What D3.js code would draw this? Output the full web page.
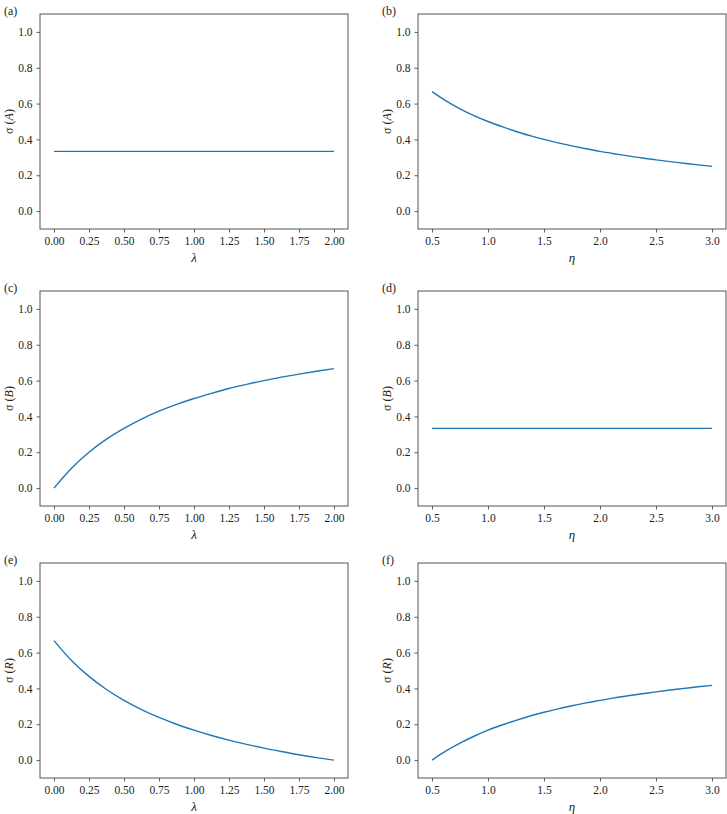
<!DOCTYPE html>
<html>
<head>
<meta charset="utf-8">
<script src="https://cdn.jsdelivr.net/npm/d3@7"></script>
<style>
	body{margin:0;background:#fff;}
</style>
</head>
<body>
<div id="chart"></div>
<script>
// values
var lambdaVals=[0,0.125,0.25,0.375,0.5,0.625,0.75,0.875,1.0,1.125,1.25,1.375,1.5,1.625,1.75,1.875,2.0];
var etaVals=[0.5,0.625,0.75,0.875,1.0,1.125,1.25,1.375,1.5,1.625,1.75,1.875,2.0,2.125,2.25,2.375,2.5,2.625,2.75,2.875,3.0];

var sigmaA_lambda=[0.333,0.333,0.333,0.333,0.333,0.333,0.333,0.333,0.333,0.333,0.333,0.333,0.333,0.333,0.333,0.333,0.333];
var sigmaA_eta=[0.667,0.615,0.571,0.533,0.5,0.471,0.444,0.421,0.4,0.381,0.364,0.348,0.333,0.32,0.308,0.296,0.286,0.276,0.267,0.258,0.25];
var sigmaB_lambda=[0,0.111,0.2,0.273,0.333,0.385,0.429,0.467,0.5,0.529,0.556,0.579,0.6,0.619,0.636,0.652,0.667];
var sigmaB_eta=[0.333,0.333,0.333,0.333,0.333,0.333,0.333,0.333,0.333,0.333,0.333,0.333,0.333,0.333,0.333,0.333,0.333,0.333,0.333,0.333,0.333];
var sigmaR_lambda=[0.667,0.556,0.467,0.394,0.333,0.282,0.238,0.2,0.167,0.137,0.111,0.088,0.067,0.048,0.03,0.014,0];
var sigmaR_eta=[0,0.051,0.095,0.133,0.167,0.196,0.222,0.246,0.267,0.286,0.303,0.319,0.333,0.347,0.359,0.37,0.381,0.391,0.4,0.409,0.417];

var lambdaTicks=[0,0.25,0.5,0.75,1.0,1.25,1.5,1.75,2.0];
var etaTicks=[0.5,1.0,1.5,2.0,2.5,3.0];
var yTicks=[0,0.2,0.4,0.6,0.8,1.0];

var panels=[
	{tag:"(a)",xs:lambdaVals,ys:sigmaA_lambda,xDom:[-0.1,2.1],xt:lambdaTicks,fmt:".2f",xl:"λ",yl:"A",col:0,row:0},
	{tag:"(b)",xs:etaVals,ys:sigmaA_eta,xDom:[0.375,3.125],xt:etaTicks,fmt:".1f",xl:"η",yl:"A",col:1,row:0},
	{tag:"(c)",xs:lambdaVals,ys:sigmaB_lambda,xDom:[-0.1,2.1],xt:lambdaTicks,fmt:".2f",xl:"λ",yl:"B",col:0,row:1},
	{tag:"(d)",xs:etaVals,ys:sigmaB_eta,xDom:[0.375,3.125],xt:etaTicks,fmt:".1f",xl:"η",yl:"B",col:1,row:1},
	{tag:"(e)",xs:lambdaVals,ys:sigmaR_lambda,xDom:[-0.1,2.1],xt:lambdaTicks,fmt:".2f",xl:"λ",yl:"R",col:0,row:2},
	{tag:"(f)",xs:etaVals,ys:sigmaR_eta,xDom:[0.375,3.125],xt:etaTicks,fmt:".1f",xl:"η",yl:"R",col:1,row:2}
];

var W=727,H=814;
var colLeft=[40,418], rowTop=[14,291,563];
var pW=308, pH=215;
var lineColor="#1f77b4", spine="#555";
var serif="Liberation Serif";

var svg=d3.select("#chart").append("svg").attr("width",W).attr("height",H);

panels.forEach(function(p){
	var x0=colLeft[p.col], y0=rowTop[p.row];
	var g=svg.append("g").attr("transform","translate("+x0+","+y0+")");
	var xScale=d3.scaleLinear().domain(p.xDom).range([0,pW]);
	var yScale=d3.scaleLinear().domain([-0.1,1.1]).range([pH,0]);

	var xAxis=g.append("g").attr("transform","translate(0,"+pH+")")
		.call(d3.axisBottom(xScale).tickValues(p.xt).tickFormat(d3.format(p.fmt)).tickSize(3.5).tickPadding(4));
	var yAxis=g.append("g")
		.call(d3.axisLeft(yScale).tickValues(yTicks).tickFormat(d3.format(".1f")).tickSize(3.5).tickPadding(4));
	[xAxis,yAxis].forEach(function(a){
		a.attr("font-family",null).attr("font-size",null);
		a.select(".domain").remove();
		a.selectAll("line").attr("stroke","#333").attr("stroke-width",0.8);
		a.selectAll("text").attr("fill","#222").style("font-family",serif).style("font-size","11.5px");
	});

	var line=d3.line()
		.x(function(d,i){return xScale(p.xs[i]);})
		.y(function(d){return yScale(d);})
		.curve(d3.curveMonotoneX);
	g.append("path").datum(p.ys)
		.attr("d",line).attr("fill","none")
		.attr("stroke",lineColor).attr("stroke-width",1.4);

	g.append("rect").attr("width",pW).attr("height",pH)
		.attr("fill","none").attr("stroke",spine).attr("stroke-width",1);

	// panel tag
	svg.append("text").attr("x",x0-36).attr("y",y0+1)
		.style("font-family",serif).style("font-size","12px").attr("fill","#222").text(p.tag);

	// x label
	g.append("text").attr("x",pW/2).attr("y",pH+33)
		.attr("text-anchor","middle").style("font-family",serif).style("font-size","13px").attr("fill","#222")
		.style("font-style","italic").text(p.xl);

	// y label
	var yl=g.append("text")
		.attr("transform","translate(-27,"+(pH/2)+") rotate(-90)")
		.attr("text-anchor","middle").style("font-family",serif).style("font-size","12px").attr("fill","#222");
	yl.append("tspan").text("σ ");
	yl.append("tspan").text("(");
	yl.append("tspan").style("font-style","italic").text(p.yl);
	yl.append("tspan").text(")");
});
</script>
</body>
</html>
